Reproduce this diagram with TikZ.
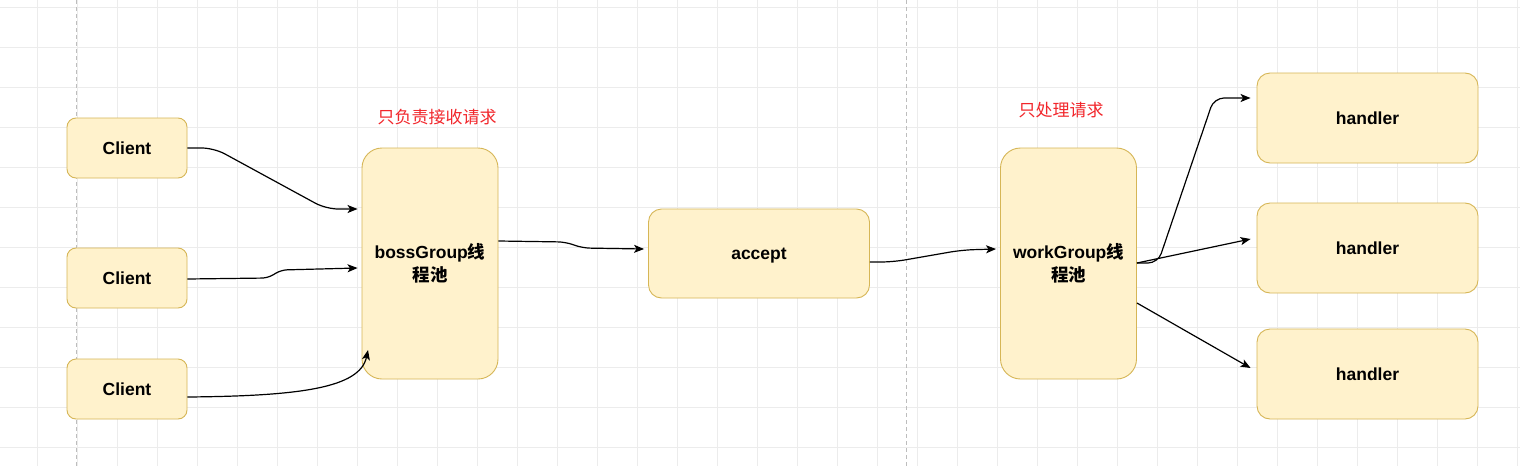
\documentclass[tikz,border=0pt]{standalone}
\usepackage{fontspec}
\setmainfont{Liberation Sans}
\newfontfamily\cjk{Noto Sans CJK SC}
\usetikzlibrary{arrows.meta}
\definecolor{boxfill}{HTML}{FFF2CC}
\definecolor{boxdraw}{HTML}{D6B656}
\definecolor{gridc}{HTML}{ECECEC}
\definecolor{dashc}{HTML}{BDBDBD}
\definecolor{notec}{HTML}{F2262B}
\tikzset{
  box/.style={draw=boxdraw, fill=boxfill, line width=0.9pt, inner sep=0pt,
    font=\bfseries\fontsize{17.5}{23}\selectfont, align=center},
  oneline/.style={text height=14pt, text depth=2pt},
  cbox/.style={box, oneline, minimum width=120pt, minimum height=60pt, rounded corners=9pt},
  pool/.style={box, minimum width=136pt, minimum height=231pt, rounded corners=20pt},
  wbox/.style={box, oneline, minimum width=221pt, minimum height=90pt, rounded corners=13pt},
  note/.style={text=notec, font=\cjk\fontsize{17}{20}\selectfont, inner sep=0pt},
  link/.style={draw=black, line width=1.2pt, -{Stealth[length=10pt,width=8pt,inset=2.5pt]}},
  gridline/.style={draw=gridc, line width=0.9pt},
  divider/.style={draw=dashc, line width=0.9pt, dash pattern=on 4pt off 3pt}
}
\begin{document}
\begin{tikzpicture}[x=1pt, y=-1pt]
\fill[white] (0,0) rectangle (1520,466);
\useasboundingbox (0,0) rectangle (1520,466);
% grid
\foreach \gx in {37,77,...,1517} \draw[gridline] (\gx,0) -- (\gx,466);
\foreach \gy in {7,47,...,447} \draw[gridline] (0,\gy) -- (1520,\gy);
% dividers
\draw[divider] (76,0) -- (76,466);
\draw[divider] (906,0) -- (906,466);

% nodes
\node[cbox] (c1) at (127,148) {Client};
\node[cbox] (c2) at (127,278) {Client};
\node[cbox] (c3) at (127,389) {Client};
\node[pool] (boss) at (430,263.5) {bossGroup{\cjk\bfseries 线}\\{\cjk\bfseries 程池}};
\node[box, oneline, minimum width=221pt, minimum height=89pt, rounded corners=13pt] (acc) at (759,253.5) {accept};
\node[pool] (work) at (1068.5,263.5) {workGroup{\cjk\bfseries 线}\\{\cjk\bfseries 程池}};
\node[wbox] (h1) at (1367.5,118) {handler};
\node[wbox] (h2) at (1367.5,248) {handler};
\node[wbox] (h3) at (1367.5,374) {handler};

\node[note] (n1) at (437,117) {只负责接收请求};
\node[note] (n2) at (1061,110) {只处理请求};

% connectors
\draw[link, rounded corners=12pt] (c1.east) -- (214,148) -- (326,209) -- ([xshift=-4pt]boss.west |- 0,209);
\draw[link, rounded corners=6pt] (c2.east |- 0,279) -- (268,278) -- (281,270) -- ([xshift=-4pt]boss.west |- 0,268);
\draw[link] (c3.east |- 0,397) .. controls (300,396) and (360,388) .. (368,350);
\draw[link, rounded corners=8pt] (boss.east |- 0,241) -- (566,242) -- (582,248) -- ([xshift=-4pt]acc.west |- 0,249);
\draw[link, rounded corners=12pt] (acc.east |- 0,262) -- (893,262) -- (962,250) -- ([xshift=-4pt]work.west |- 0,249);
\draw[link, rounded corners=10pt] (work.east |- 0,263) -- (1158,263) -- (1214,98) -- ([xshift=-6pt]h1.west |- 0,98);
\draw[link] (work.east |- 0,263) -- ([xshift=-6pt]h2.west |- 0,239);
\draw[link] (work.east |- 0,303) -- ([xshift=-6pt]h3.west |- 0,368);
\end{tikzpicture}
\end{document}
